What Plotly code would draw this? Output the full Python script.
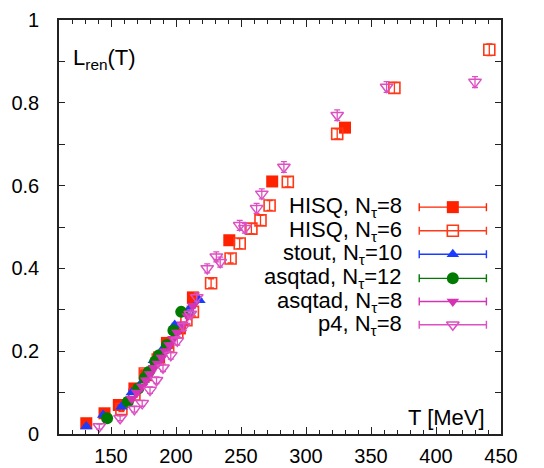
import plotly.graph_objects as go

# ---------------- data ----------------
hisq8_T = [131, 145, 156, 168, 177, 187, 193, 203, 213, 241, 274, 330]
hisq8_L = [0.026, 0.050, 0.070, 0.110, 0.142, 0.185, 0.220, 0.255, 0.330, 0.468, 0.610, 0.740]
hisq8_E = [0.004] * len(hisq8_T)

hisq6_T = [158, 168, 176, 186, 194, 201, 208, 213, 227, 242, 249, 258, 265, 272, 286, 324, 368, 441]
hisq6_L = [0.060, 0.095, 0.146, 0.180, 0.210, 0.245, 0.275, 0.295, 0.364, 0.424, 0.460, 0.496, 0.516,
           0.552, 0.609, 0.725, 0.836, 0.928]
hisq6_E = [0.006, 0.006, 0.008, 0.008, 0.009, 0.009, 0.01, 0.01, 0.011, 0.011, 0.012, 0.012, 0.012,
           0.012, 0.012, 0.012, 0.013, 0.014]

stout_T = [131, 144, 158, 166, 175, 183, 191, 199, 210, 218]
stout_L = [0.018, 0.046, 0.066, 0.100, 0.130, 0.178, 0.210, 0.263, 0.300, 0.323]
stout_E = [0.004] * len(stout_T)

asq12_T = [147, 163, 171, 176, 179, 184, 187, 193, 198, 204]
asq12_L = [0.038, 0.078, 0.110, 0.135, 0.150, 0.175, 0.190, 0.215, 0.250, 0.295]
asq12_E = [0.005] * len(asq12_T)

asq8_T = [166, 170, 174, 177, 180, 183, 186, 189, 192, 195, 198, 201, 205, 209, 213]
asq8_L = [0.085, 0.100, 0.115, 0.130, 0.145, 0.160, 0.170, 0.185, 0.200, 0.215, 0.230, 0.245,
          0.265, 0.285, 0.310]
asq8_E = [0.005] * len(asq8_T)

p4_T = [141, 157, 168, 174, 180, 185, 190, 196, 201, 206, 211, 216, 224, 231, 234, 249, 253,
        262, 266, 283, 324, 362, 430]
p4_L = [0.018, 0.038, 0.060, 0.074, 0.106, 0.130, 0.160, 0.190, 0.225, 0.260, 0.290, 0.330,
        0.400, 0.428, 0.415, 0.504, 0.497, 0.545, 0.580, 0.645, 0.770, 0.838, 0.850]
p4_E = [0.006, 0.006, 0.007, 0.007, 0.008, 0.008, 0.009, 0.009, 0.01, 0.01, 0.01, 0.011, 0.011,
        0.012, 0.012, 0.012, 0.012, 0.012, 0.012, 0.013, 0.013, 0.013, 0.013]

x_ticks = [150, 200, 250, 300, 350, 400, 450]
y_ticks = [0, 0.2, 0.4, 0.6, 0.8, 1]
y_tick_labels = ["0", "0.2", "0.4", "0.6", "0.8", "1"]

series_names = ["HISQ, N<sub>τ</sub>=8", "HISQ, N<sub>τ</sub>=6", "stout, N<sub>τ</sub>=10",
                "asqtad, N<sub>τ</sub>=12", "asqtad, N<sub>τ</sub>=8", "p4, N<sub>τ</sub>=8"]

# ---------------- styles ----------------
FONT = "Liberation Sans, Arial, Helvetica, sans-serif"
RED = "#ff2200"
RED_O = "#ff3818"
BLUE = "#1a3cff"
GREEN = "#007a00"
MAG = "#d434b4"
MAG_O = "#dc50c2"

styles = [
    dict(symbol="square", size=12, color=RED, line=dict(width=0)),
    dict(symbol="square-open", size=11, color=RED_O, line=dict(width=1.6, color=RED_O)),
    dict(symbol="triangle-up", size=11, color=BLUE, line=dict(width=0)),
    dict(symbol="circle", size=12, color=GREEN, line=dict(width=0)),
    dict(symbol="triangle-down", size=11, color=MAG, line=dict(width=0)),
    dict(symbol="triangle-down-open", size=11, color=MAG_O, line=dict(width=1.5, color=MAG_O)),
]
colors = [RED, RED_O, BLUE, GREEN, MAG, MAG_O]

data = [
    (hisq8_T, hisq8_L, hisq8_E),
    (hisq6_T, hisq6_L, hisq6_E),
    (stout_T, stout_L, stout_E),
    (asq12_T, asq12_L, asq12_E),
    (asq8_T, asq8_L, asq8_E),
    (p4_T, p4_L, p4_E),
]

fig = go.Figure()
for (T, L, E), st, c, nm in zip(data, styles, colors, series_names):
    fig.add_trace(go.Scatter(
        x=T, y=L, mode="markers", name=nm, showlegend=False,
        marker=st,
        error_y=dict(type="data", array=E, visible=True, color=c, thickness=1.3, width=3),
    ))

# ---------------- custom gnuplot-style key ----------------
key_text_x = 0.778
key_mid_x = 0.891
key_half = 0.076
key_rows = [0.548, 0.491, 0.434, 0.376, 0.320, 0.264]
annotations = []
for i, (st, c, nm) in enumerate(zip(styles, colors, series_names)):
    fig.add_trace(go.Scatter(
        x=[key_mid_x], y=[key_rows[i]], xaxis="x2", yaxis="y2", mode="markers",
        showlegend=False, hoverinfo="skip", marker=st,
        error_x=dict(type="constant", value=key_half, visible=True, color=c, thickness=1.4, width=4),
    ))
    annotations.append(dict(
        xref="paper", yref="paper", x=key_text_x, y=key_rows[i], xanchor="right", yanchor="middle",
        text=nm, showarrow=False, borderpad=0, font=dict(family=FONT, size=22, color="#000")))

annotations.append(dict(xref="paper", yref="paper", x=0.030, y=0.905, xanchor="left", yanchor="middle",
                        text="L<sub>ren</sub>(T)", showarrow=False, borderpad=0,
                        font=dict(family=FONT, size=22, color="#000")))
annotations.append(dict(xref="paper", yref="paper", x=0.966, y=0.040, xanchor="right", yanchor="middle",
                        text="T [MeV]", showarrow=False, borderpad=0,
                        font=dict(family=FONT, size=22, color="#000")))

axis_common = dict(showline=True, linecolor="#222", linewidth=1.6, mirror="allticks",
                   ticks="inside", tickcolor="#222", showgrid=False, zeroline=False, automargin=False,
                   tickfont=dict(family=FONT, size=20, color="#000"))

# page body has an 8px default margin; size the figure so it fills the 544x468 window
fig.update_layout(
    width=536, height=460,
    margin=dict(l=51, r=43, t=12, b=34),
    plot_bgcolor="white", paper_bgcolor="white",
    showlegend=False,
    xaxis=dict(range=[110, 450], tickvals=x_ticks, ticklen=7, tickwidth=1.2,
               minor=dict(dtick=10, tick0=110, ticks="inside", ticklen=4, tickcolor="#222", tickwidth=1),
               ticklabelstandoff=3, **axis_common),
    yaxis=dict(range=[0, 1], tickvals=y_ticks, ticktext=y_tick_labels, ticklen=6, tickwidth=1.2,
               minor=dict(dtick=0.1, tick0=0, ticks="inside", ticklen=6, tickcolor="#222", tickwidth=1),
               ticklabelstandoff=14, **axis_common),
    xaxis2=dict(range=[0, 1], overlaying="x", visible=False, fixedrange=True),
    yaxis2=dict(range=[0, 1], overlaying="y", visible=False, fixedrange=True),
    annotations=annotations,
)

fig.write_html("out.html")
